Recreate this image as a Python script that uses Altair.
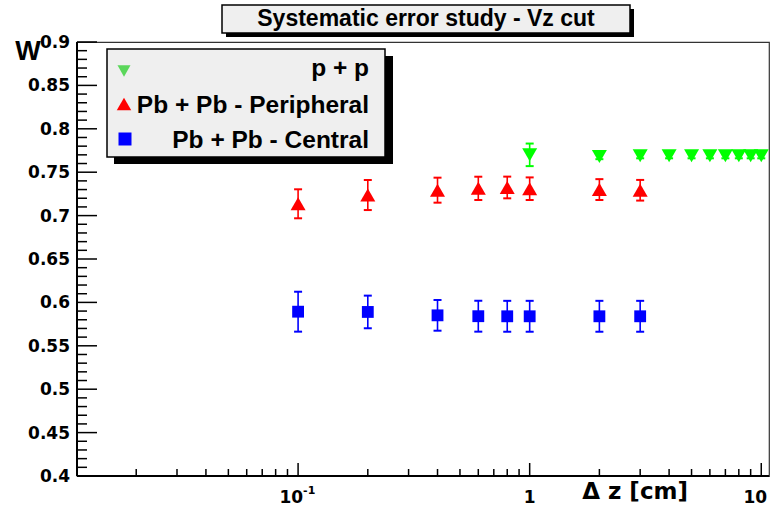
import altair as alt
import pandas as pd

# ---------------- data ----------------
pp_dz = [1, 2, 3, 4, 5, 6, 7, 8, 9, 10]
pp_w = [0.770, 0.768, 0.769, 0.769, 0.769, 0.769, 0.769, 0.769, 0.769, 0.769]
pp_err = [0.013, 0.003, 0.003, 0.003, 0.003, 0.003, 0.003, 0.003, 0.003, 0.003]

per_dz = [0.1, 0.2, 0.4, 0.6, 0.8, 1, 2, 3]
per_w = [0.7136, 0.7237, 0.7293, 0.7314, 0.7324, 0.7310, 0.7300, 0.7292]
per_err = [0.0167, 0.0173, 0.0144, 0.0134, 0.0125, 0.0130, 0.0120, 0.0119]

cen_dz = [0.1, 0.2, 0.4, 0.6, 0.8, 1, 2, 3]
cen_w = [0.5893, 0.5890, 0.5851, 0.5841, 0.5840, 0.5840, 0.5840, 0.5840]
cen_err = [0.0230, 0.0188, 0.0177, 0.0178, 0.0178, 0.0178, 0.0178, 0.0178]

y_major = [0.4, 0.45, 0.5, 0.55, 0.6, 0.65, 0.7, 0.75, 0.8, 0.85, 0.9]
y_tick_labels = ["0.4", "0.45", "0.5", "0.55", "0.6", "0.65", "0.7", "0.75", "0.8", "0.85", "0.9"]
y_minor = [0.41, 0.42, 0.43, 0.44, 0.46, 0.47, 0.48, 0.49, 0.51, 0.52, 0.53, 0.54,
           0.56, 0.57, 0.58, 0.59, 0.61, 0.62, 0.63, 0.64, 0.66, 0.67, 0.68, 0.69,
           0.71, 0.72, 0.73, 0.74, 0.76, 0.77, 0.78, 0.79, 0.81, 0.82, 0.83, 0.84,
           0.86, 0.87, 0.88, 0.89]
x_major = [0.1, 1, 10]
x_minor = [0.02, 0.03, 0.04, 0.05, 0.06, 0.07, 0.08, 0.09,
           0.2, 0.3, 0.4, 0.5, 0.6, 0.7, 0.8, 0.9,
           2, 3, 4, 5, 6, 7, 8, 9]
x_tick_labels = ["10", "1", "10"]
x_tick_sup = "-1"
x_domain = [0.0111, 10.8]
y_domain = [0.4, 0.9]

title_text = "Systematic error study - Vz cut"
legend_labels = ["p + p", "Pb + Pb - Peripheral", "Pb + Pb - Central"]
x_title = "\u0394 z [cm]"
y_title = "W"

# ---------------- layout ----------------
W, H = 692, 434
BOLD_SANS = "Liberation Sans"
WIDE_SANS = "DejaVu Sans"

XS = alt.Scale(type="log", domain=x_domain, nice=False)
YS = alt.Scale(domain=y_domain, nice=False, zero=False)

one = pd.DataFrame({"a": [0]})


def series_df(dz, w, err):
    return pd.DataFrame({
        "dz": dz,
        "w": w,
        "lo": [a - b for a, b in zip(w, err)],
        "hi": [a + b for a, b in zip(w, err)],
    })


def series_layers(df, color, shape, size):
    base = alt.Chart(df)
    x = alt.X("dz:Q", scale=XS, axis=None)
    bars = base.mark_rule(color=color, strokeWidth=1.6).encode(
        x=x, y=alt.Y("lo:Q", scale=YS, axis=None), y2="hi:Q")
    cap_lo = base.mark_tick(orient="horizontal", size=8, thickness=2, color=color, opacity=1).encode(
        x=x, y=alt.Y("lo:Q", scale=YS, axis=None))
    cap_hi = base.mark_tick(orient="horizontal", size=8, thickness=2, color=color, opacity=1).encode(
        x=x, y=alt.Y("hi:Q", scale=YS, axis=None))
    pts = base.mark_point(shape=shape, filled=True, size=size, color=color, opacity=1,
                          strokeWidth=0).encode(x=x, y=alt.Y("w:Q", scale=YS, axis=None))
    return [bars, cap_lo, cap_hi, pts]


def deco_rect(x, x2, y, y2, fill, stroke=None):
    kw = dict(fill=fill)
    if stroke:
        kw.update(stroke=stroke, strokeWidth=1.5)
    return alt.Chart(one).mark_rect(**kw).encode(
        x=alt.value(x), x2=alt.value(x2), y=alt.value(y), y2=alt.value(y2))


def deco_text(txt, x, y, size, align="left", font=BOLD_SANS, weight="bold", baseline="alphabetic"):
    return alt.Chart(one).mark_text(text=txt, align=align, baseline=baseline, font=font,
                                    fontSize=size, fontWeight=weight, color="black").encode(
        x=alt.value(x), y=alt.value(y))


# y ticks (pointing inside) + labels
ymaj = alt.Chart(pd.DataFrame({"v": y_major})).mark_rule(color="black", strokeWidth=1.5).encode(
    y=alt.Y("v:Q", scale=YS, axis=None), x=alt.value(0), x2=alt.value(20))
ymin = alt.Chart(pd.DataFrame({"v": y_minor})).mark_rule(color="black", strokeWidth=1.5).encode(
    y=alt.Y("v:Q", scale=YS, axis=None), x=alt.value(0), x2=alt.value(10))
ylab = alt.Chart(pd.DataFrame({"v": y_major, "t": y_tick_labels})).mark_text(
    align="right", baseline="middle", font=WIDE_SANS, fontSize=17, fontWeight="bold",
    color="black", dy=1).encode(
    y=alt.Y("v:Q", scale=YS, axis=None), x=alt.value(-7), text="t:N")

xmaj = alt.Chart(pd.DataFrame({"v": x_major})).mark_rule(color="black", strokeWidth=1.5).encode(
    x=alt.X("v:Q", scale=XS, axis=None), y=alt.value(H), y2=alt.value(H - 13))
xmin = alt.Chart(pd.DataFrame({"v": x_minor})).mark_rule(color="black", strokeWidth=1.5).encode(
    x=alt.X("v:Q", scale=XS, axis=None), y=alt.value(H), y2=alt.value(H - 7))

lab_df = pd.DataFrame({"v": x_major, "t": x_tick_labels})
xl0 = alt.Chart(lab_df.iloc[[0]]).mark_text(align="right", baseline="alphabetic", dx=5, font=WIDE_SANS,
                                            fontSize=17, fontWeight="bold", color="black").encode(
    x=alt.X("v:Q", scale=XS, axis=None), y=alt.value(461), text="t:N")
xl0s = alt.Chart(lab_df.iloc[[0]]).mark_text(text=x_tick_sup, align="left", baseline="alphabetic", dx=5,
                                             font=WIDE_SANS, fontSize=11, fontWeight="bold",
                                             color="black").encode(
    x=alt.X("v:Q", scale=XS, axis=None), y=alt.value(452))
xl1 = alt.Chart(lab_df.iloc[[1]]).mark_text(align="center", baseline="alphabetic", font=WIDE_SANS,
                                            fontSize=17, fontWeight="bold", color="black").encode(
    x=alt.X("v:Q", scale=XS, axis=None), y=alt.value(461), text="t:N")
xl2 = alt.Chart(lab_df.iloc[[2]]).mark_text(align="center", baseline="alphabetic", dx=-6, font=WIDE_SANS,
                                            fontSize=17, fontWeight="bold", color="black").encode(
    x=alt.X("v:Q", scale=XS, axis=None), y=alt.value(461), text="t:N")

# frame axes lines
left_line = alt.Chart(one).mark_rule(color="black", strokeWidth=2).encode(
    x=alt.value(0), y=alt.value(0), y2=alt.value(H))
bottom_line = alt.Chart(one).mark_rule(color="black", strokeWidth=2).encode(
    x=alt.value(0), x2=alt.value(W), y=alt.value(H))

layers = [ymin, ymaj, ylab, xmin, xmaj, left_line, bottom_line, xl0, xl0s, xl1, xl2]

layers += series_layers(series_df(cen_dz, cen_w, cen_err), "#0000ff", "square", 140)
layers += series_layers(series_df(per_dz, per_w, per_err), "#ff0000", "triangle-up", 225)
layers += series_layers(series_df(pp_dz, pp_w, pp_err), "#00ff00", "triangle-down", 225)

# title box
layers += [
    deco_rect(149, 557, -33, -5, "black"),
    deco_rect(145, 553, -37, -9, "#efefef", "black"),
    deco_text(title_text, 349, -16, 23, align="center"),
]

# legend box
legend_marks = [
    alt.Chart(one).mark_point(shape="triangle-down", filled=True, size=170, color="#5bd75b",
                              opacity=1, strokeWidth=0).encode(x=alt.value(47), y=alt.value(29)),
    alt.Chart(one).mark_point(shape="triangle-up", filled=True, size=210, color="#ff0000",
                              opacity=1, strokeWidth=0).encode(x=alt.value(47), y=alt.value(62)),
    alt.Chart(one).mark_point(shape="square", filled=True, size=169, color="#0000ff",
                              opacity=1, strokeWidth=0).encode(x=alt.value(48), y=alt.value(97)),
]
layers += [
    deco_rect(37, 316, 14, 122, "black"),
    deco_rect(30, 308, 7, 115, "#efefef", "black"),
    deco_text(legend_labels[0], 292, 34, 24.5, align="right"),
    deco_text(legend_labels[1], 292, 71, 24.5, align="right"),
    deco_text(legend_labels[2], 292, 106, 24.5, align="right"),
] + legend_marks

# axis titles
layers += [
    deco_text(y_title, -49, 18, 27, align="center"),
    deco_text(x_title, 611, 457, 23, align="right", font=WIDE_SANS),
]

chart = alt.layer(*layers).properties(
    width=W, height=H,
    autosize=alt.AutoSizeParams(type="none"),
    padding={"left": 77, "top": 42, "right": 4, "bottom": 35},
    background="white",
).configure_view(stroke="#333333", strokeWidth=1.2)

chart.save("out.html", embed_options={"renderer": "svg", "actions": False})
